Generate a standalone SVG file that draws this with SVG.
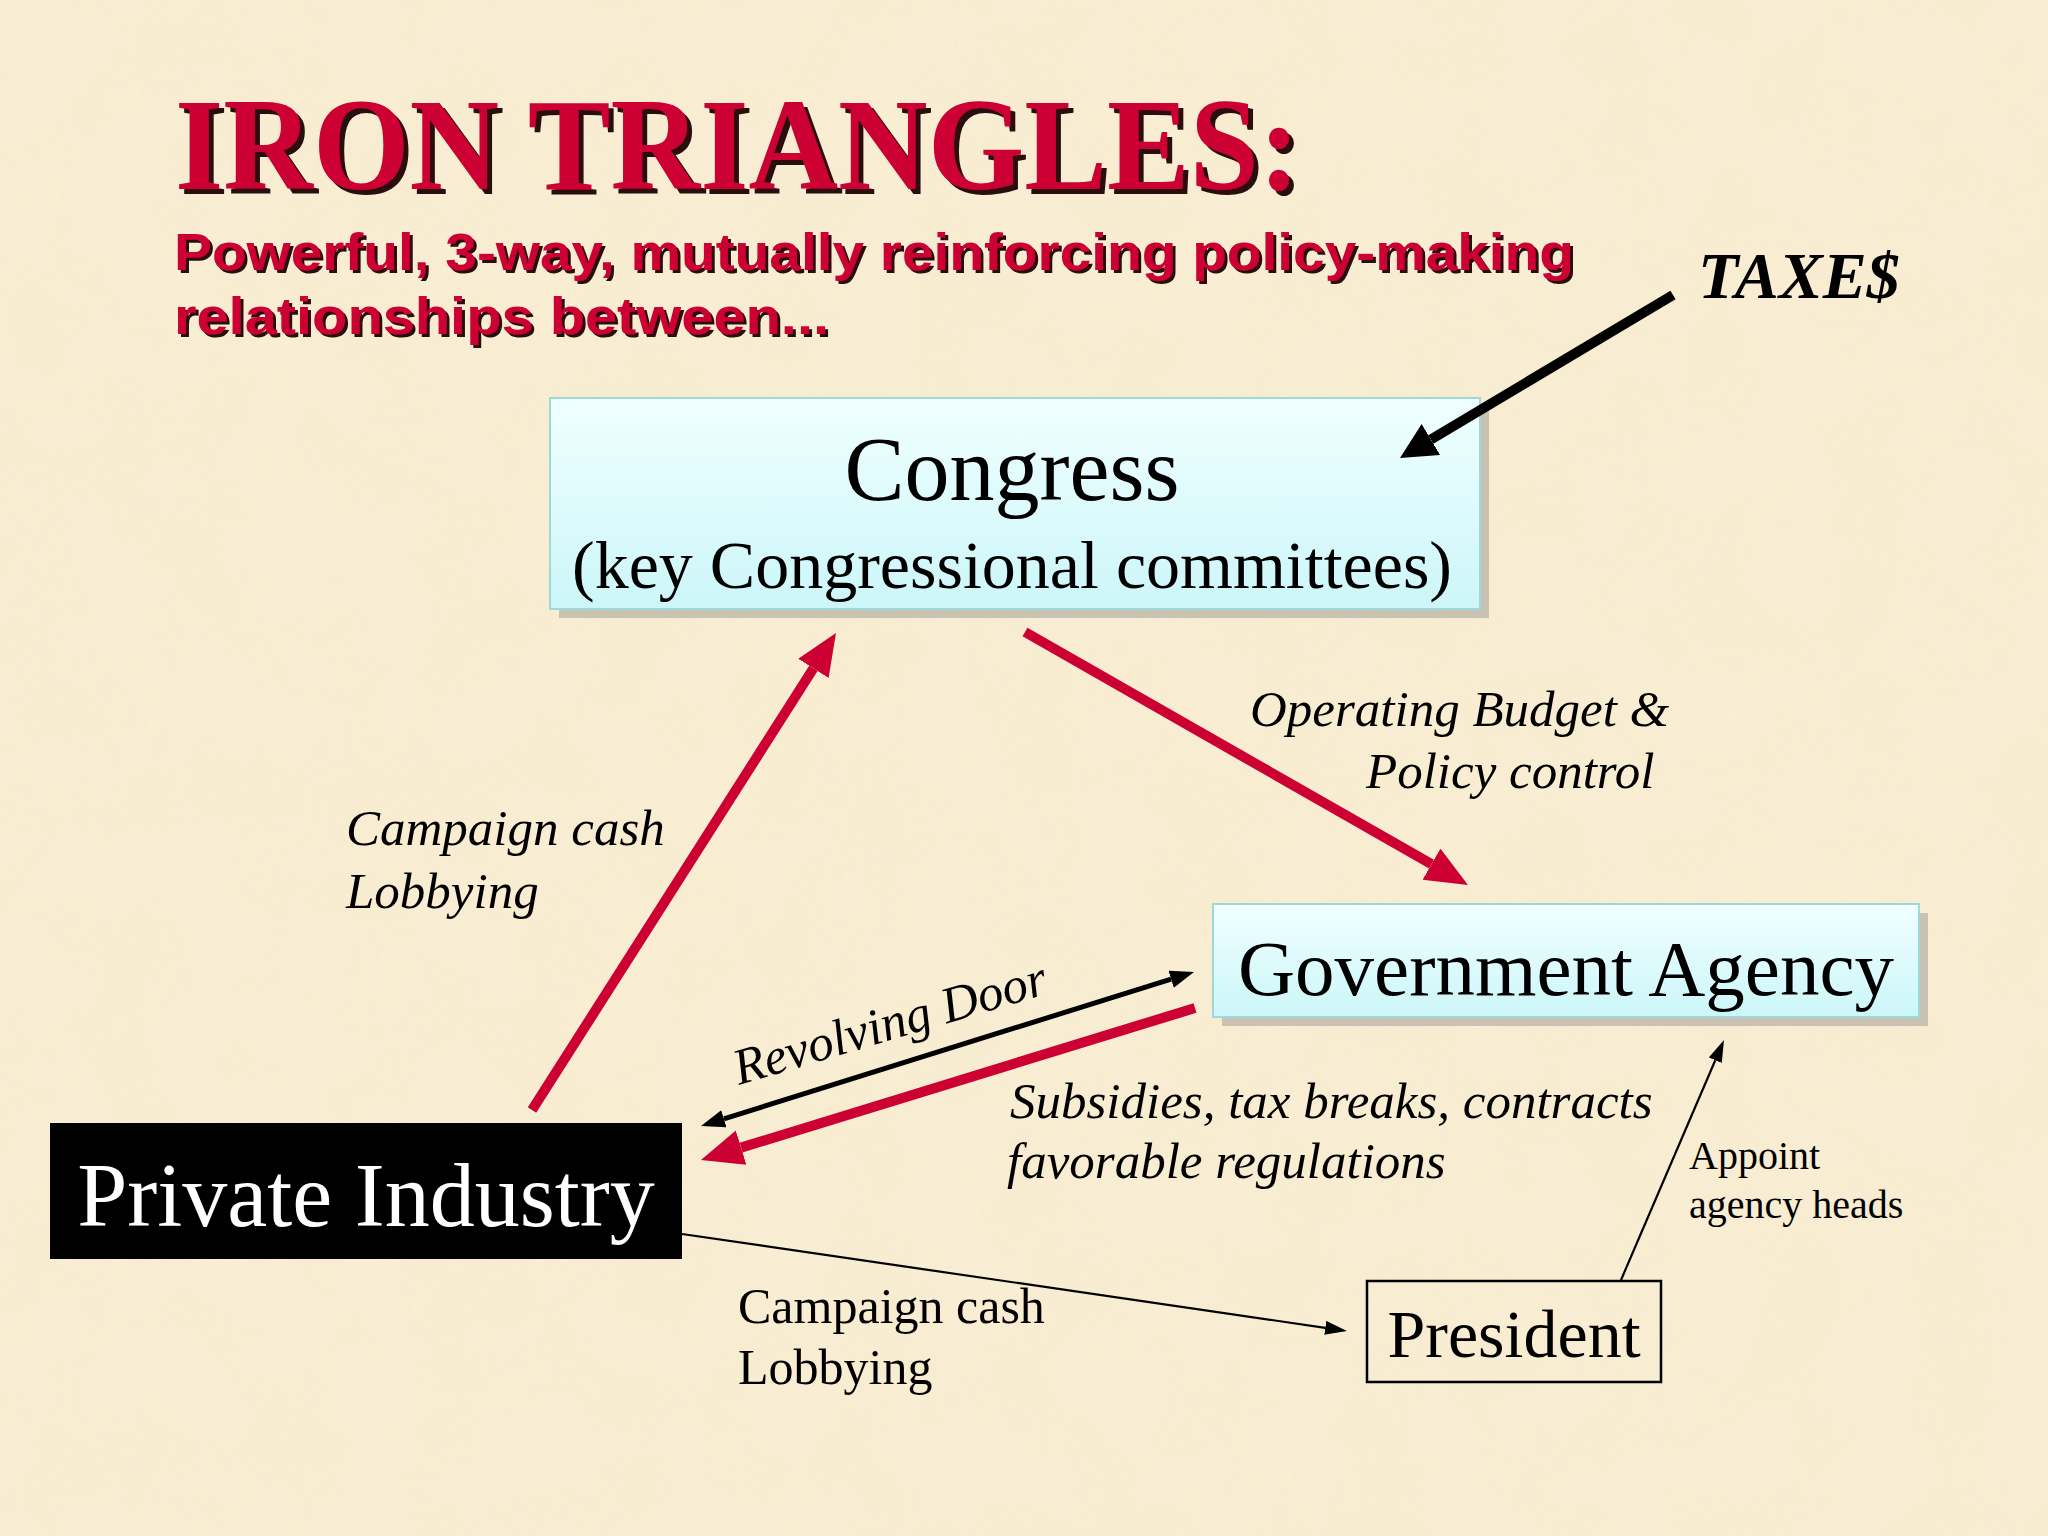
<svg xmlns="http://www.w3.org/2000/svg" width="2048" height="1536" viewBox="0 0 2048 1536">
  <defs>
    <style>
      .serif { font-family: "Liberation Serif", "Times New Roman", serif; }
      .sans { font-family: "Liberation Sans", Arial, sans-serif; }
      .title { font-weight: bold; font-size: 131px; fill: #CC0033; filter: url(#shadow4); }
      .sub { font-weight: bold; font-size: 52px; fill: #CC0033; filter: url(#shadow3); }
      .lbl { font-size: 50px; fill: #000; }
      .ital { font-style: italic; font-size: 51px; }
      .redline { stroke: #CC0033; stroke-width: 10; fill: none; }
      .thin { stroke: #000; stroke-width: 2.2; fill: none; }
      .box { fill: url(#cyan); stroke: #9ED8D8; stroke-width: 2; }
      .boxshadow { fill: #C9C2B2; }
    </style>
    <linearGradient id="cyan" x1="0" y1="0" x2="0" y2="1">
      <stop offset="0" stop-color="#F0FFFF"/>
      <stop offset="1" stop-color="#CCF6F9"/>
    </linearGradient>
    <filter id="shadow4" x="-5%" y="-20%" width="110%" height="140%">
      <feDropShadow dx="5" dy="5" stdDeviation="0" flood-color="#2a1010" flood-opacity="1"/>
    </filter>
    <filter id="shadow3" x="-5%" y="-20%" width="110%" height="140%">
      <feDropShadow dx="3" dy="3" stdDeviation="0" flood-color="#2a1010" flood-opacity="1"/>
    </filter>
    <filter id="paper" x="0" y="0" width="100%" height="100%">
      <feTurbulence type="fractalNoise" baseFrequency="0.012" numOctaves="3" seed="4" result="n"/>
      <feColorMatrix type="matrix" values="0 0 0 0 0.85  0 0 0 0 0.75  0 0 0 0 0.55  0 0 0 0.4 -0.05"/>
    </filter>
    <marker id="redHead" markerUnits="userSpaceOnUse" markerWidth="44" markerHeight="38" refX="0" refY="18" orient="auto">
      <path d="M0,0 L42,18 L0,36 Z" fill="#CC0033"/>
    </marker>
    <marker id="blackBig" markerUnits="userSpaceOnUse" markerWidth="40" markerHeight="38" refX="0" refY="18" orient="auto">
      <path d="M0,0 L36,18 L0,36 Z" fill="#000"/>
    </marker>
    <marker id="blackMid" markerUnits="userSpaceOnUse" markerWidth="26" markerHeight="20" refX="0" refY="9" orient="auto-start-reverse">
      <path d="M0,0 L24,9 L0,18 Z" fill="#000"/>
    </marker>
    <marker id="blackSmall" markerUnits="userSpaceOnUse" markerWidth="24" markerHeight="16" refX="0" refY="7" orient="auto">
      <path d="M0,0 L22,7 L0,14 Z" fill="#000"/>
    </marker>
  </defs>

  <rect x="0" y="0" width="2048" height="1536" fill="#F9EED3"/>
  <rect x="0" y="0" width="2048" height="1536" filter="url(#paper)" opacity="0.55"/>

  <g id="title">
    <text class="serif title" x="175" y="189" textLength="1125" lengthAdjust="spacingAndGlyphs">IRON TRIANGLES:</text>
    <text class="sans sub" x="174" y="270" textLength="1400" lengthAdjust="spacingAndGlyphs">Powerful, 3-way, mutually reinforcing policy-making</text>
    <text class="sans sub" x="174" y="334" textLength="655" lengthAdjust="spacingAndGlyphs">relationships between...</text>
  </g>

  <g id="taxes">
    <text class="serif" x="1698" y="298" font-size="66" font-weight="bold" font-style="italic" fill="#000">TAXE$</text>
  </g>

  <g id="congress">
    <rect class="boxshadow" x="559" y="407" width="930" height="211"/>
    <rect class="box" x="550" y="398" width="930" height="211"/>
    <text class="serif" x="1012" y="500" font-size="90" text-anchor="middle" fill="#000">Congress</text>
    <text class="serif" x="1012" y="588" font-size="68" text-anchor="middle" fill="#000">(key Congressional committees)</text>
  </g>

  <g id="government-agency">
    <rect class="boxshadow" x="1222" y="913" width="706" height="113"/>
    <rect class="box" x="1213" y="904" width="706" height="113"/>
    <text class="serif" x="1566" y="995" font-size="79" text-anchor="middle" fill="#000">Government Agency</text>
  </g>

  <g id="private-industry">
    <rect x="50" y="1123" width="632" height="136" fill="#000"/>
    <text class="serif" x="366" y="1226" font-size="90" text-anchor="middle" fill="#fff">Private Industry</text>
  </g>

  <g id="president">
    <rect x="1367" y="1281" width="294" height="101" fill="none" stroke="#000" stroke-width="2.5"/>
    <text class="serif" x="1514" y="1357" font-size="68" text-anchor="middle" fill="#000">President</text>
  </g>

  <g id="connectors">
    <line x1="1673" y1="295" x2="1430.9" y2="439.5" stroke="#000" stroke-width="10" marker-end="url(#blackBig)"/>
    <line class="redline" x1="532" y1="1110" x2="813.4" y2="668.4" marker-end="url(#redHead)"/>
    <line class="redline" x1="1025" y1="632" x2="1431.5" y2="864.2" marker-end="url(#redHead)"/>
    <line class="redline" x1="1195" y1="1008" x2="741.1" y2="1147.6" marker-end="url(#redHead)"/>
    <line x1="723.9" y1="1118.8" x2="1171.1" y2="979.2" stroke="#000" stroke-width="5" marker-start="url(#blackMid)" marker-end="url(#blackMid)"/>
    <line class="thin" x1="682" y1="1234" x2="1325.2" y2="1327.8" marker-end="url(#blackSmall)"/>
    <line class="thin" x1="1621" y1="1280" x2="1715.3" y2="1060.2" marker-end="url(#blackSmall)"/>
  </g>

  <g id="labels">
    <text class="serif lbl ital" x="346" y="845">Campaign cash</text>
    <text class="serif lbl ital" x="346" y="908">Lobbying</text>
    <text class="serif lbl ital" x="1250" y="726">Operating Budget &amp;</text>
    <text class="serif lbl ital" x="1366" y="788">Policy control</text>
    <text class="serif lbl ital" x="739" y="1085" transform="rotate(-16.5 739 1085)">Revolving Door</text>
    <text class="serif lbl ital" x="1010" y="1118">Subsidies, tax breaks, contracts</text>
    <text class="serif lbl ital" x="1007" y="1178">favorable regulations</text>
    <text class="serif lbl" x="738" y="1323">Campaign cash</text>
    <text class="serif lbl" x="738" y="1384">Lobbying</text>
    <text class="serif" x="1689" y="1169" font-size="40" fill="#000">Appoint</text>
    <text class="serif" x="1689" y="1218" font-size="40" fill="#000">agency heads</text>
  </g>
</svg>
